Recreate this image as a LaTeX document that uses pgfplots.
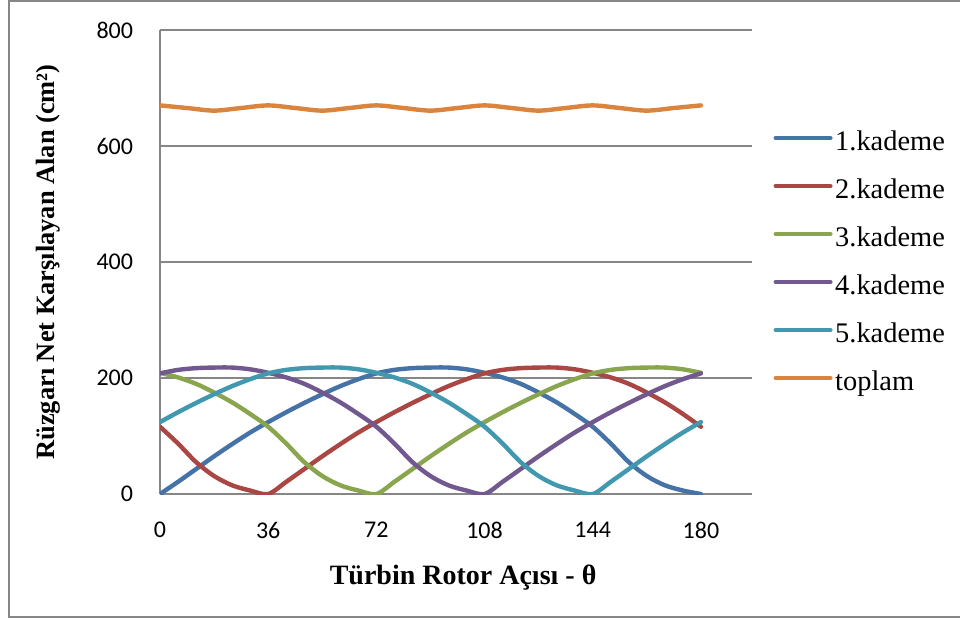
\documentclass[border=0pt]{standalone}
\usepackage{fontspec}
\setmainfont{Liberation Serif}
\newfontfamily\calibri{Carlito}
\usepackage{pgfplots}
\pgfplotsset{compat=1.18}
\usepackage{pgfplotstable}
\definecolor{c1}{HTML}{4572A7}
\definecolor{c2}{HTML}{AA4643}
\definecolor{c3}{HTML}{89A54E}
\definecolor{c4}{HTML}{71588F}
\definecolor{c5}{HTML}{4198AF}
\definecolor{c6}{HTML}{DB843D}
\definecolor{gridgray}{HTML}{868686}

\pgfplotstableread{
t   k1  k2  k3  k4  k5
0   0   116 209 208 124
6   21  87  201 214 141
12  43  55  190 217 157
18  65  31  175 218 172
24  86  15  158 218 186
30  106 6   138 215 198
36  124 0   116 209 208
42  141 21  87  201 214
48  157 43  55  190 217
54  172 65  31  175 218
60  186 86  15  158 218
66  198 106 6   138 215
72  208 124 0   116 209
78  214 141 21  87  201
84  217 157 43  55  190
90  218 172 65  31  175
96  218 186 86  15  158
102 215 198 106 6   138
108 209 208 124 0   116
114 201 214 141 21  87
120 190 217 157 43  55
126 175 218 172 65  31
132 158 218 186 86  15
138 138 215 198 106 6
144 116 209 208 124 0
150 87  201 214 141 21
156 55  190 217 157 43
162 31  175 218 172 65
168 15  158 218 186 86
174 6   138 215 198 106
180 0   116 209 208 124
}\kademe

\pgfplotstableread{
t   v
0   670
9   665.5
18  661
27  665.5
36  670
45  665.5
54  661
63  665.5
72  670
81  665.5
90  661
99  665.5
108 670
117 665.5
126 661
135 665.5
144 670
153 665.5
162 661
171 665.5
180 670
}\toplam

\begin{document}
\begin{tikzpicture}
\useasboundingbox (-120pt,-93.75pt) rectangle (600pt,370.5pt);
\draw[line width=1.3pt, gridgray] (-113.25pt,-92.25pt) rectangle (640pt,369.75pt);
\begin{axis}[
  at={(0pt,0pt)}, anchor=south west,
  scale only axis, width=444pt, height=348pt,
  xmin=0, xmax=197, ymin=0, ymax=800,
  axis x line*=bottom, axis y line*=left,
  axis line style={line width=1.2pt, gridgray, -},
  xtick={0,36,72,108,144,180},
  ytick={0,200,400,600,800},
  ymajorgrids,
  grid style={line width=1.2pt, gridgray},
  major tick length=0pt,
  tick label style={font=\calibri\fontsize{18}{20}\selectfont},
  /pgf/number format/assume math mode=true,
  yticklabel style={anchor=east, inner sep=0pt, xshift=-20pt},
  xticklabel style={anchor=center, inner sep=0pt, yshift=-27pt},
  xlabel={Türbin Rotor Açısı - θ},
  xlabel style={at={(axis description cs:0.512,-0.181)}, anchor=center, font=\fontsize{21}{25}\selectfont\bfseries},
  ylabel={Rüzgarı Net Karşılayan Alan (cm²)},
  ylabel style={at={(axis description cs:-0.188,0.5)}, anchor=center, font=\fontsize{19.8}{24}\selectfont\bfseries},
  legend style={at={(axis description cs:1.036,0.494)}, anchor=west, draw=none, fill=none, inner sep=0pt,
    font=\fontsize{21.3}{25}\selectfont, row sep=19pt, column sep=2pt,
    nodes={inner sep=0pt, text height=13pt, text depth=4pt}},
  legend cell align=left,
  legend image code/.code={\draw[#1, line width=3pt, line cap=round] (0pt,5pt) -- (41.25pt,5pt);},
  every axis plot/.append style={line width=3.3pt, smooth, no markers, line cap=round},
]
\addplot[c1] table[x=t, y=k1] {\kademe};
\addlegendentry{1.kademe}
\addplot[c2] table[x=t, y=k2] {\kademe};
\addlegendentry{2.kademe}
\addplot[c3] table[x=t, y=k3] {\kademe};
\addlegendentry{3.kademe}
\addplot[c4] table[x=t, y=k4] {\kademe};
\addlegendentry{4.kademe}
\addplot[c5] table[x=t, y=k5] {\kademe};
\addlegendentry{5.kademe}
\addplot[c6] table[x=t, y=v] {\toplam};
\addlegendentry{toplam}
\end{axis}
\end{tikzpicture}
\end{document}
